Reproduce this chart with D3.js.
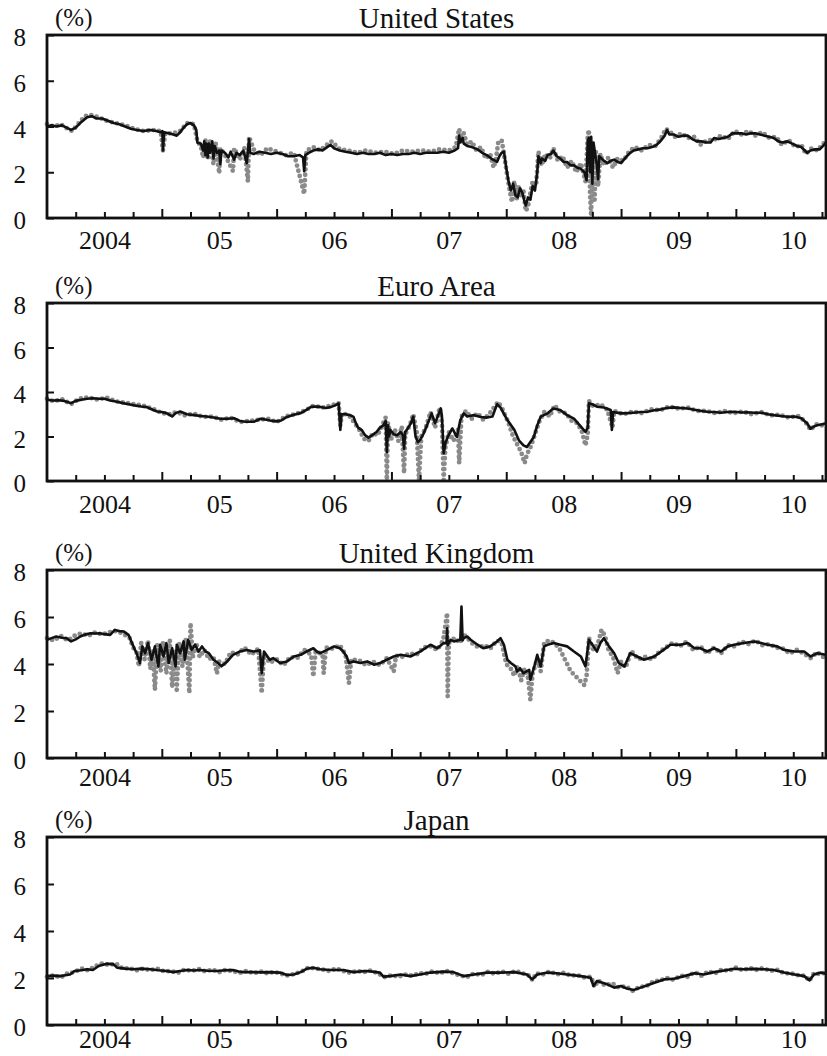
<!DOCTYPE html>
<html>
<head>
<meta charset="utf-8">
<script src="https://cdn.jsdelivr.net/npm/d3@7"></script>
<style>
  body { margin: 0; background: #fff; }
  text { font-family: "Liberation Serif", "Times New Roman", serif; fill: #111; }
</style>
</head>
<body>
<script>
// values: [time in decimal years, %]
// black line = daily series, grey dots = the other series

const us_line = [[2004.00,4.0],[2004.04,4.05],[2004.08,4.0],[2004.13,4.05],[2004.17,3.95],[2004.21,3.85],[2004.25,3.95],[2004.30,4.2],[2004.35,4.4],[2004.39,4.45],[2004.43,4.35],[2004.48,4.35],[2004.53,4.25],[2004.58,4.15],[2004.63,4.1],[2004.68,4.0],[2004.73,3.9],[2004.78,3.85],[2004.84,3.8],[2004.90,3.85],[2004.95,3.8],[2004.99,3.75],[2005.005,3.8],[2005.01,2.95],[2005.02,3.75],[2005.06,3.7],[2005.10,3.65],[2005.13,3.6],[2005.16,3.75],[2005.19,3.95],[2005.22,4.1],[2005.25,4.15],[2005.28,4.05],[2005.30,3.85],[2005.31,3.3],[2005.34,3.25],[2005.36,2.95],[2005.37,3.35],[2005.38,2.75],[2005.39,3.25],[2005.40,2.65],[2005.41,3.25],[2005.42,2.85],[2005.44,3.35],[2005.45,2.6],[2005.46,3.15],[2005.48,2.85],[2005.50,2.95],[2005.51,2.35],[2005.52,2.95],[2005.55,2.85],[2005.58,2.65],[2005.60,2.9],[2005.63,2.55],[2005.65,2.85],[2005.68,2.75],[2005.71,2.95],[2005.74,2.4],[2005.75,2.95],[2005.76,3.45],[2005.77,2.85],[2005.80,2.8],[2005.85,2.9],[2005.90,2.85],[2005.95,2.8],[2006.00,2.85],[2006.05,2.8],[2006.10,2.7],[2006.15,2.7],[2006.20,2.75],[2006.23,2.65],[2006.24,2.05],[2006.25,2.75],[2006.28,2.85],[2006.32,2.95],[2006.36,3.0],[2006.40,2.95],[2006.44,3.1],[2006.47,3.2],[2006.50,3.05],[2006.55,2.95],[2006.60,2.9],[2006.65,2.85],[2006.70,2.8],[2006.75,2.85],[2006.80,2.8],[2006.85,2.8],[2006.90,2.85],[2006.95,2.75],[2007.00,2.8],[2007.05,2.75],[2007.10,2.8],[2007.15,2.8],[2007.20,2.85],[2007.25,2.8],[2007.30,2.85],[2007.35,2.85],[2007.40,2.85],[2007.45,2.9],[2007.50,2.85],[2007.55,2.95],[2007.58,3.05],[2007.59,3.6],[2007.60,3.3],[2007.62,3.5],[2007.63,3.25],[2007.66,3.15],[2007.70,3.1],[2007.75,3.0],[2007.79,2.85],[2007.83,2.75],[2007.87,2.6],[2007.92,2.45],[2007.94,2.7],[2007.96,2.85],[2007.98,2.9],[2008.00,2.2],[2008.02,1.6],[2008.04,1.2],[2008.06,1.5],[2008.08,1.0],[2008.10,0.9],[2008.12,1.3],[2008.14,1.1],[2008.16,0.7],[2008.17,0.55],[2008.19,0.9],[2008.21,0.8],[2008.23,1.4],[2008.25,1.2],[2008.27,2.0],[2008.28,2.7],[2008.30,2.4],[2008.31,2.6],[2008.34,2.5],[2008.36,2.75],[2008.39,2.8],[2008.41,2.95],[2008.44,2.7],[2008.47,2.6],[2008.50,2.45],[2008.53,2.45],[2008.56,2.3],[2008.59,2.3],[2008.62,2.2],[2008.65,2.15],[2008.68,2.0],[2008.70,1.65],[2008.71,3.4],[2008.72,3.5],[2008.73,2.0],[2008.74,3.55],[2008.75,1.5],[2008.76,3.3],[2008.78,2.6],[2008.79,2.3],[2008.80,1.7],[2008.81,2.7],[2008.84,2.55],[2008.88,2.4],[2008.91,2.5],[2008.94,2.55],[2008.97,2.45],[2009.00,2.4],[2009.05,2.7],[2009.08,2.85],[2009.11,2.95],[2009.15,3.0],[2009.19,3.05],[2009.23,3.05],[2009.27,3.1],[2009.31,3.2],[2009.35,3.4],[2009.38,3.6],[2009.40,3.85],[2009.42,3.65],[2009.46,3.65],[2009.50,3.55],[2009.54,3.6],[2009.58,3.6],[2009.62,3.45],[2009.66,3.35],[2009.70,3.35],[2009.74,3.3],[2009.78,3.3],[2009.81,3.5],[2009.85,3.45],[2009.89,3.5],[2009.93,3.55],[2009.97,3.7],[2010.01,3.7],[2010.05,3.7],[2010.09,3.65],[2010.13,3.7],[2010.17,3.7],[2010.21,3.65],[2010.25,3.6],[2010.29,3.55],[2010.33,3.5],[2010.37,3.35],[2010.41,3.3],[2010.45,3.35],[2010.49,3.25],[2010.53,3.15],[2010.57,3.1],[2010.60,2.95],[2010.62,2.85],[2010.65,2.95],[2010.69,3.0],[2010.73,3.0],[2010.76,3.15],[2010.785,3.3]]

const us_dots = [[2004.00,4.1],[2004.06,4.0],[2004.12,4.1],[2004.18,3.9],[2004.22,3.8],[2004.27,4.1],[2004.33,4.45],[2004.38,4.5],[2004.45,4.4],[2004.52,4.25],[2004.60,4.15],[2004.68,4.05],[2004.76,3.9],[2004.84,3.8],[2004.92,3.85],[2004.99,3.8],[2005.01,2.95],[2005.03,3.7],[2005.10,3.7],[2005.16,3.8],[2005.22,4.15],[2005.28,4.1],[2005.31,3.35],[2005.34,3.15],[2005.36,2.65],[2005.38,3.4],[2005.40,2.55],[2005.42,3.35],[2005.45,2.35],[2005.47,3.25],[2005.50,1.95],[2005.51,3.05],[2005.55,2.75],[2005.62,2.05],[2005.63,3.05],[2005.68,2.55],[2005.72,3.05],[2005.75,1.6],[2005.76,3.55],[2005.80,3.0],[2005.86,2.75],[2005.92,3.05],[2006.00,2.9],[2006.08,2.75],[2006.15,2.85],[2006.24,1.05],[2006.26,2.95],[2006.32,3.1],[2006.38,2.95],[2006.45,3.25],[2006.48,3.35],[2006.55,3.0],[2006.62,2.95],[2006.70,2.85],[2006.78,2.95],[2006.86,2.85],[2006.94,2.9],[2007.02,2.8],[2007.10,2.95],[2007.18,2.9],[2007.26,2.95],[2007.34,2.9],[2007.42,3.0],[2007.50,2.95],[2007.56,3.1],[2007.59,3.9],[2007.61,3.3],[2007.63,3.7],[2007.66,3.2],[2007.70,3.35],[2007.74,2.95],[2007.78,3.1],[2007.82,2.6],[2007.86,2.8],[2007.89,2.2],[2007.91,2.55],[2007.93,3.3],[2007.96,3.4],[2007.98,2.8],[2008.01,1.8],[2008.03,1.2],[2008.05,0.7],[2008.07,1.6],[2008.09,0.8],[2008.11,1.4],[2008.13,0.9],[2008.15,1.2],[2008.17,0.3],[2008.19,0.5],[2008.21,1.1],[2008.23,1.6],[2008.26,1.4],[2008.28,2.9],[2008.31,2.3],[2008.34,2.8],[2008.38,2.6],[2008.41,3.05],[2008.45,2.5],[2008.49,2.7],[2008.53,2.2],[2008.57,2.5],[2008.61,2.0],[2008.65,2.4],[2008.69,1.6],[2008.71,3.6],[2008.72,3.85],[2008.73,1.0],[2008.74,0.1],[2008.75,3.0],[2008.77,0.8],[2008.78,2.9],[2008.80,1.4],[2008.82,2.8],[2008.85,2.3],[2008.89,2.65],[2008.93,2.2],[2008.97,2.6],[2009.02,2.5],[2009.07,2.9],[2009.12,3.1],[2009.18,2.95],[2009.24,3.2],[2009.30,3.15],[2009.35,3.5],[2009.39,3.9],[2009.42,3.8],[2009.47,3.55],[2009.53,3.7],[2009.58,3.5],[2009.64,3.55],[2009.69,3.2],[2009.75,3.4],[2009.81,3.4],[2009.87,3.6],[2009.93,3.45],[2009.99,3.8],[2010.05,3.65],[2010.11,3.8],[2010.17,3.6],[2010.23,3.75],[2010.29,3.5],[2010.35,3.55],[2010.40,3.2],[2010.46,3.4],[2010.52,3.1],[2010.57,3.2],[2010.61,2.8],[2010.66,3.05],[2010.71,2.95],[2010.76,3.25],[2010.785,3.3]]

const euro_line = [[2004.00,3.65],[2004.05,3.62],[2004.10,3.63],[2004.15,3.6],[2004.21,3.5],[2004.25,3.6],[2004.30,3.65],[2004.35,3.7],[2004.40,3.72],[2004.45,3.7],[2004.50,3.7],[2004.55,3.62],[2004.61,3.56],[2004.66,3.5],[2004.71,3.45],[2004.76,3.4],[2004.82,3.35],[2004.87,3.32],[2004.92,3.2],[2004.96,3.12],[2005.00,3.1],[2005.04,3.05],[2005.09,2.9],[2005.12,3.05],[2005.16,3.12],[2005.22,3.0],[2005.28,2.96],[2005.34,2.92],[2005.39,2.9],[2005.45,2.85],[2005.51,2.8],[2005.57,2.8],[2005.63,2.82],[2005.68,2.7],[2005.73,2.66],[2005.80,2.66],[2005.86,2.8],[2005.90,2.76],[2005.94,2.72],[2006.00,2.68],[2006.04,2.72],[2006.09,2.88],[2006.15,2.98],[2006.21,3.05],[2006.26,3.2],[2006.30,3.33],[2006.34,3.35],[2006.38,3.33],[2006.43,3.28],[2006.47,3.32],[2006.51,3.4],[2006.54,3.49],[2006.555,2.3],[2006.565,3.0],[2006.60,3.0],[2006.64,2.96],[2006.67,2.88],[2006.69,2.6],[2006.71,2.4],[2006.74,2.3],[2006.77,2.06],[2006.80,1.95],[2006.83,2.05],[2006.87,2.2],[2006.90,2.4],[2006.93,2.5],[2006.95,2.7],[2006.96,1.3],[2006.97,2.5],[2006.98,2.0],[2006.99,2.3],[2007.02,2.1],[2007.05,2.06],[2007.08,2.2],[2007.10,2.05],[2007.11,1.45],[2007.12,2.2],[2007.14,2.35],[2007.17,2.6],[2007.19,2.9],[2007.21,2.0],[2007.23,1.75],[2007.25,1.85],[2007.28,2.13],[2007.31,2.5],[2007.35,3.04],[2007.38,2.6],[2007.43,3.26],[2007.44,2.9],[2007.455,1.25],[2007.47,1.7],[2007.49,1.98],[2007.53,2.36],[2007.57,1.98],[2007.60,2.74],[2007.63,3.04],[2007.66,2.9],[2007.72,2.96],[2007.78,2.88],[2007.83,2.85],[2007.88,2.9],[2007.92,3.45],[2007.95,3.3],[2008.01,2.74],[2008.07,2.3],[2008.11,1.83],[2008.15,1.6],[2008.18,1.53],[2008.21,1.75],[2008.24,1.98],[2008.27,2.5],[2008.30,2.89],[2008.36,3.04],[2008.41,3.26],[2008.47,3.19],[2008.53,2.96],[2008.59,2.8],[2008.65,2.44],[2008.69,2.21],[2008.71,2.4],[2008.72,3.49],[2008.75,3.45],[2008.79,3.34],[2008.85,3.3],[2008.91,3.19],[2008.92,2.3],[2008.93,3.1],[2009.00,3.04],[2009.06,3.05],[2009.11,3.07],[2009.17,3.1],[2009.23,3.11],[2009.29,3.18],[2009.35,3.22],[2009.40,3.28],[2009.46,3.31],[2009.52,3.28],[2009.58,3.26],[2009.64,3.2],[2009.70,3.15],[2009.75,3.11],[2009.81,3.1],[2009.87,3.07],[2009.93,3.1],[2009.985,3.11],[2010.05,3.08],[2010.10,3.09],[2010.16,3.07],[2010.22,3.07],[2010.28,3.0],[2010.33,2.96],[2010.39,2.92],[2010.45,2.89],[2010.51,2.9],[2010.57,2.82],[2010.62,2.6],[2010.65,2.35],[2010.68,2.45],[2010.71,2.51],[2010.75,2.55],[2010.785,2.6]]

const euro_dots = [[2004.00,3.7],[2004.06,3.58],[2004.13,3.68],[2004.21,3.45],[2004.28,3.7],[2004.36,3.76],[2004.44,3.66],[2004.52,3.75],[2004.60,3.58],[2004.68,3.52],[2004.76,3.45],[2004.84,3.38],[2004.92,3.25],[2005.00,3.05],[2005.07,3.0],[2005.13,3.1],[2005.20,2.95],[2005.28,3.02],[2005.36,2.88],[2005.44,2.9],[2005.52,2.75],[2005.60,2.85],[2005.68,2.65],[2005.76,2.7],[2005.84,2.75],[2005.92,2.8],[2006.00,2.65],[2006.08,2.9],[2006.16,3.0],[2006.24,3.15],[2006.32,3.38],[2006.40,3.3],[2006.48,3.4],[2006.54,3.5],[2006.555,2.5],[2006.57,3.05],[2006.63,2.95],[2006.68,2.6],[2006.72,2.3],[2006.76,1.9],[2006.80,1.8],[2006.84,2.15],[2006.88,2.05],[2006.92,2.5],[2006.95,2.85],[2006.96,0.05],[2006.97,2.6],[2007.00,1.9],[2007.03,2.3],[2007.06,1.8],[2007.09,2.45],[2007.11,0.35],[2007.12,2.1],[2007.16,2.5],[2007.19,3.0],[2007.22,2.2],[2007.24,0.05],[2007.26,2.0],[2007.30,2.4],[2007.34,3.1],[2007.38,2.4],[2007.42,3.3],[2007.44,2.6],[2007.455,0.05],[2007.47,1.5],[2007.50,2.2],[2007.54,1.8],[2007.58,2.3],[2007.59,0.8],[2007.61,2.9],[2007.65,3.15],[2007.70,2.8],[2007.75,3.05],[2007.80,2.75],[2007.85,3.0],[2007.90,3.35],[2007.93,3.55],[2007.97,3.2],[2008.02,2.6],[2008.06,2.0],[2008.10,1.6],[2008.13,1.3],[2008.16,0.8],[2008.18,1.2],[2008.21,1.5],[2008.25,2.1],[2008.29,2.7],[2008.33,3.1],[2008.38,2.9],[2008.42,3.4],[2008.47,3.1],[2008.52,3.05],[2008.57,2.7],[2008.62,2.6],[2008.66,2.2],[2008.69,1.6],[2008.71,2.1],[2008.72,3.6],[2008.76,3.35],[2008.82,3.45],[2008.88,3.2],[2008.925,2.4],[2008.94,3.15],[2009.02,3.0],[2009.10,3.12],[2009.18,3.05],[2009.26,3.22],[2009.34,3.18],[2009.42,3.35],[2009.50,3.25],[2009.58,3.3],[2009.66,3.15],[2009.74,3.15],[2009.82,3.05],[2009.90,3.15],[2009.98,3.05],[2010.06,3.12],[2010.14,3.0],[2010.22,3.1],[2010.30,2.95],[2010.38,2.98],[2010.46,2.85],[2010.54,2.92],[2010.60,2.7],[2010.65,2.3],[2010.70,2.55],[2010.75,2.5],[2010.785,2.65]]

const uk_line = [[2004.00,5.03],[2004.04,5.1],[2004.08,5.17],[2004.13,5.12],[2004.17,5.1],[2004.21,4.96],[2004.25,5.05],[2004.29,5.17],[2004.33,5.25],[2004.38,5.31],[2004.42,5.3],[2004.46,5.31],[2004.50,5.27],[2004.55,5.24],[2004.59,5.45],[2004.63,5.4],[2004.67,5.38],[2004.71,5.24],[2004.74,4.89],[2004.76,4.67],[2004.78,4.46],[2004.81,4.04],[2004.83,4.75],[2004.855,4.46],[2004.88,4.89],[2004.91,4.18],[2004.94,4.75],[2004.97,3.9],[2004.985,4.82],[2005.015,4.32],[2005.04,4.89],[2005.06,4.04],[2005.09,4.67],[2005.12,3.9],[2005.13,4.82],[2005.16,4.46],[2005.19,4.96],[2005.20,4.18],[2005.23,5.03],[2005.26,4.6],[2005.29,4.82],[2005.32,4.53],[2005.35,4.75],[2005.38,4.53],[2005.41,4.46],[2005.45,4.18],[2005.49,4.04],[2005.52,3.9],[2005.57,4.11],[2005.62,4.39],[2005.68,4.53],[2005.74,4.6],[2005.80,4.53],[2005.855,4.58],[2005.87,3.61],[2005.89,4.53],[2005.94,4.18],[2005.97,4.25],[2006.03,4.04],[2006.09,4.11],[2006.15,4.32],[2006.21,4.39],[2006.26,4.53],[2006.32,4.67],[2006.35,4.53],[2006.38,4.46],[2006.44,4.6],[2006.50,4.75],[2006.55,4.67],[2006.58,4.53],[2006.61,4.32],[2006.63,4.04],[2006.67,4.11],[2006.73,4.04],[2006.79,4.11],[2006.85,3.97],[2006.90,4.04],[2006.96,4.18],[2007.02,4.32],[2007.08,4.39],[2007.165,4.32],[2007.25,4.53],[2007.34,4.82],[2007.40,4.67],[2007.456,4.89],[2007.48,4.9],[2007.485,5.52],[2007.49,4.8],[2007.514,5.03],[2007.543,4.96],[2007.60,5.03],[2007.61,6.44],[2007.62,5.0],[2007.63,5.1],[2007.66,5.17],[2007.69,5.03],[2007.75,4.82],[2007.80,4.67],[2007.86,4.75],[2007.92,4.96],[2007.95,5.1],[2007.98,4.82],[2008.01,4.18],[2008.04,4.04],[2008.08,3.9],[2008.095,3.68],[2008.12,3.82],[2008.15,3.61],[2008.20,3.75],[2008.21,3.33],[2008.24,3.82],[2008.27,4.39],[2008.30,3.9],[2008.33,4.75],[2008.36,4.82],[2008.415,4.89],[2008.47,4.82],[2008.53,4.75],[2008.59,4.53],[2008.65,4.32],[2008.69,3.9],[2008.72,5.03],[2008.76,4.75],[2008.79,4.53],[2008.82,4.89],[2008.85,5.1],[2008.895,4.75],[2008.94,4.46],[2008.98,4.04],[2009.03,3.9],[2009.08,4.46],[2009.14,4.32],[2009.20,4.18],[2009.29,4.32],[2009.37,4.6],[2009.43,4.82],[2009.52,4.82],[2009.58,4.89],[2009.64,4.67],[2009.69,4.67],[2009.75,4.53],[2009.81,4.67],[2009.87,4.53],[2009.93,4.75],[2009.985,4.82],[2010.07,4.89],[2010.16,4.96],[2010.22,4.89],[2010.28,4.82],[2010.36,4.75],[2010.42,4.6],[2010.51,4.53],[2010.595,4.53],[2010.65,4.32],[2010.71,4.46],[2010.785,4.39]]

const uk_dots = [[2004.00,5.1],[2004.06,5.0],[2004.12,5.2],[2004.18,5.0],[2004.24,5.2],[2004.30,5.3],[2004.36,5.2],[2004.42,5.35],[2004.48,5.25],[2004.54,5.35],[2004.60,5.4],[2004.66,5.3],[2004.72,5.1],[2004.75,4.7],[2004.78,4.5],[2004.80,3.9],[2004.82,4.9],[2004.85,4.2],[2004.88,5.0],[2004.90,3.8],[2004.92,4.6],[2004.94,2.9],[2004.96,4.8],[2004.99,3.7],[2005.01,4.9],[2005.04,3.6],[2005.07,5.0],[2005.09,3.0],[2005.11,4.6],[2005.13,2.9],[2005.15,4.9],[2005.18,3.9],[2005.21,5.1],[2005.24,2.76],[2005.25,5.74],[2005.27,4.3],[2005.30,4.9],[2005.33,4.3],[2005.37,4.6],[2005.41,4.2],[2005.45,4.3],[2005.48,3.6],[2005.50,4.1],[2005.55,4.0],[2005.60,4.5],[2005.66,4.4],[2005.72,4.7],[2005.78,4.4],[2005.84,4.65],[2005.87,2.76],[2005.89,4.4],[2005.94,4.05],[2006.00,4.2],[2006.06,3.95],[2006.12,4.3],[2006.18,4.25],[2006.24,4.6],[2006.30,4.4],[2006.32,3.47],[2006.34,4.55],[2006.40,4.4],[2006.41,3.61],[2006.43,4.7],[2006.49,4.65],[2006.55,4.8],[2006.60,4.4],[2006.63,3.19],[2006.65,4.2],[2006.72,4.15],[2006.78,3.95],[2006.84,4.1],[2006.90,3.95],[2006.96,4.25],[2007.02,3.68],[2007.04,4.35],[2007.10,4.3],[2007.16,4.45],[2007.22,4.4],[2007.28,4.7],[2007.34,4.75],[2007.40,4.6],[2007.45,5.0],[2007.485,6.16],[2007.49,2.62],[2007.50,4.9],[2007.55,5.1],[2007.60,4.9],[2007.62,5.3],[2007.66,5.1],[2007.71,4.85],[2007.76,4.7],[2007.81,4.8],[2007.86,4.65],[2007.92,5.0],[2007.96,4.9],[2008.00,4.0],[2008.04,3.8],[2008.07,3.5],[2008.10,3.9],[2008.13,3.3],[2008.16,3.8],[2008.19,3.4],[2008.21,2.48],[2008.23,3.6],[2008.27,4.2],[2008.30,3.7],[2008.33,4.9],[2008.37,5.0],[2008.42,4.9],[2008.47,4.6],[2008.52,4.1],[2008.56,3.7],[2008.60,3.5],[2008.64,3.3],[2008.68,3.1],[2008.70,3.5],[2008.72,5.1],[2008.76,4.6],[2008.80,4.9],[2008.83,5.45],[2008.86,5.2],[2008.89,4.6],[2008.93,4.3],[2008.97,3.61],[2009.00,4.1],[2009.04,3.85],[2009.09,4.55],[2009.15,4.2],[2009.21,4.3],[2009.27,4.2],[2009.33,4.5],[2009.39,4.7],[2009.45,4.9],[2009.51,4.75],[2009.57,4.95],[2009.63,4.6],[2009.69,4.75],[2009.75,4.45],[2009.81,4.7],[2009.87,4.45],[2009.93,4.8],[2009.99,4.75],[2010.05,4.95],[2010.11,4.85],[2010.17,5.0],[2010.23,4.8],[2010.29,4.85],[2010.35,4.7],[2010.41,4.65],[2010.47,4.45],[2010.53,4.6],[2010.59,4.45],[2010.65,4.25],[2010.71,4.5],[2010.76,4.3],[2010.785,4.4]]

const japan_line = [[2004.00,2.08],[2004.06,2.1],[2004.11,2.08],[2004.16,2.12],[2004.20,2.15],[2004.24,2.3],[2004.30,2.33],[2004.35,2.37],[2004.40,2.34],[2004.45,2.51],[2004.52,2.61],[2004.58,2.58],[2004.61,2.44],[2004.68,2.4],[2004.75,2.37],[2004.82,2.4],[2004.90,2.37],[2004.97,2.33],[2005.04,2.3],[2005.10,2.25],[2005.16,2.3],[2005.22,2.34],[2005.28,2.32],[2005.33,2.34],[2005.40,2.31],[2005.48,2.3],[2005.55,2.33],[2005.62,2.34],[2005.67,2.28],[2005.71,2.25],[2005.80,2.25],[2005.86,2.24],[2005.92,2.25],[2006.03,2.23],[2006.09,2.13],[2006.15,2.15],[2006.21,2.25],[2006.26,2.39],[2006.32,2.44],[2006.38,2.37],[2006.44,2.35],[2006.50,2.34],[2006.58,2.34],[2006.67,2.25],[2006.73,2.28],[2006.79,2.3],[2006.85,2.26],[2006.90,2.23],[2006.93,2.06],[2006.99,2.08],[2007.08,2.15],[2007.165,2.08],[2007.25,2.15],[2007.34,2.23],[2007.456,2.27],[2007.54,2.25],[2007.63,2.08],[2007.72,2.15],[2007.83,2.23],[2007.95,2.23],[2008.07,2.25],[2008.18,2.15],[2008.226,1.94],[2008.27,2.15],[2008.36,2.23],[2008.44,2.2],[2008.53,2.15],[2008.65,2.08],[2008.735,2.01],[2008.76,1.66],[2008.79,1.87],[2008.88,1.73],[2008.94,1.59],[2009.00,1.66],[2009.05,1.55],[2009.11,1.49],[2009.17,1.59],[2009.23,1.69],[2009.29,1.8],[2009.375,1.94],[2009.46,1.97],[2009.55,2.08],[2009.64,2.2],[2009.72,2.15],[2009.81,2.25],[2009.90,2.32],[2009.985,2.39],[2010.07,2.37],[2010.16,2.39],[2010.25,2.37],[2010.33,2.34],[2010.42,2.23],[2010.51,2.15],[2010.595,2.08],[2010.64,1.9],[2010.68,2.15],[2010.74,2.23],[2010.785,2.18]]

const japan_dots = [[2004.00,2.05],[2004.06,2.12],[2004.12,2.02],[2004.18,2.2],[2004.24,2.25],[2004.30,2.4],[2004.36,2.32],[2004.42,2.5],[2004.48,2.62],[2004.54,2.55],[2004.60,2.62],[2004.66,2.4],[2004.72,2.42],[2004.78,2.32],[2004.84,2.4],[2004.90,2.33],[2004.96,2.4],[2005.02,2.28],[2005.08,2.3],[2005.14,2.22],[2005.20,2.36],[2005.26,2.3],[2005.32,2.38],[2005.38,2.28],[2005.44,2.36],[2005.50,2.25],[2005.56,2.35],[2005.62,2.28],[2005.68,2.22],[2005.74,2.3],[2005.80,2.2],[2005.86,2.28],[2005.92,2.2],[2005.98,2.26],[2006.04,2.18],[2006.10,2.1],[2006.16,2.18],[2006.22,2.28],[2006.28,2.45],[2006.34,2.4],[2006.40,2.36],[2006.46,2.3],[2006.52,2.4],[2006.58,2.3],[2006.64,2.22],[2006.70,2.3],[2006.76,2.25],[2006.82,2.32],[2006.88,2.2],[2006.94,2.04],[2007.00,2.12],[2007.06,2.05],[2007.12,2.15],[2007.18,2.1],[2007.24,2.2],[2007.30,2.18],[2007.36,2.28],[2007.42,2.2],[2007.48,2.3],[2007.54,2.2],[2007.60,2.1],[2007.66,2.05],[2007.72,2.2],[2007.78,2.12],[2007.84,2.26],[2007.90,2.18],[2007.96,2.28],[2008.02,2.18],[2008.08,2.3],[2008.14,2.2],[2008.20,2.1],[2008.23,1.9],[2008.26,2.2],[2008.32,2.15],[2008.38,2.28],[2008.44,2.15],[2008.50,2.22],[2008.56,2.1],[2008.62,2.12],[2008.68,2.02],[2008.74,2.05],[2008.77,1.62],[2008.80,1.9],[2008.86,1.68],[2008.92,1.78],[2008.98,1.6],[2009.04,1.65],[2009.10,1.45],[2009.16,1.62],[2009.22,1.65],[2009.28,1.85],[2009.34,1.9],[2009.40,2.0],[2009.46,1.92],[2009.52,2.1],[2009.58,2.05],[2009.64,2.25],[2009.70,2.1],[2009.76,2.28],[2009.82,2.2],[2009.88,2.36],[2009.94,2.3],[2010.00,2.44],[2010.06,2.33],[2010.12,2.42],[2010.18,2.35],[2010.24,2.42],[2010.30,2.3],[2010.36,2.35],[2010.42,2.2],[2010.48,2.2],[2010.54,2.12],[2010.60,2.1],[2010.64,1.88],[2010.68,2.2],[2010.74,2.16],[2010.785,2.25]]

const titles = ["United States", "Euro Area", "United Kingdom", "Japan"]
const year_labels = ["2004", "05", "06", "07", "08", "09", "10"]
const y_ticks = [0, 2, 4, 6, 8]
const t_start = 2004, t_end = 2010.785

const series = [
    { title: titles[0], line: us_line, dots: us_dots },
    { title: titles[1], line: euro_line, dots: euro_dots },
    { title: titles[2], line: uk_line, dots: uk_dots },
    { title: titles[3], line: japan_line, dots: japan_dots }
]

// panel frames (top / bottom of each box in px) and gap under the axis for year labels
const panel_top = [35, 303, 570, 837]
const panel_bottom = [218, 481, 758, 1025]
const label_gap = [13, 14, 10, 5]
const left = 47, right = 826

const svg = d3.select("body").append("svg")
    .attr("width", 827)
    .attr("height", 1056)
    .attr("viewBox", "0 0 827 1056")

const x = d3.scaleLinear().domain([t_start, t_end]).range([left, right])

// quarter ticks, every 4th one is a year boundary
const quarter_ticks = d3.range(1, 28).map(i => t_start + i / 4)
const major_ticks = quarter_ticks.filter((t, i) => (i + 1) % 4 === 0)
const minor_ticks = quarter_ticks.filter((t, i) => (i + 1) % 4 !== 0)
const label_ticks = year_labels.map((d, i) => t_start + i + 0.5)

const serif = '"Liberation Serif", "Times New Roman", serif'

function draw_panel(d, i)
{
    const top = panel_top[i]
    const bottom = panel_bottom[i]
    const y = d3.scaleLinear().domain([0, 8]).range([bottom, top])
    const g = svg.append("g")

    // grey dots first, black line on top
    const line_gen = d3.line()
        .x(p => x(p[0]))
        .y(p => y(p[1]))

    g.append("path")
        .datum(d.dots)
        .attr("d", line_gen)
        .attr("fill", "none")
        .attr("stroke", "#8a8a8a")
        .attr("stroke-width", 4.8)
        .attr("stroke-linecap", "round")
        .attr("stroke-dasharray", "0 5.4")

    g.append("path")
        .datum(d.line)
        .attr("d", line_gen)
        .attr("fill", "none")
        .attr("stroke", "#111")
        .attr("stroke-width", 2.6)
        .attr("stroke-linejoin", "round")

    // x ticks pointing into the box
    g.append("g")
        .attr("transform", `translate(0,${bottom})`)
        .call(d3.axisBottom(x).tickValues(major_ticks).tickSize(-9).tickFormat(""))
    g.append("g")
        .attr("transform", `translate(0,${bottom})`)
        .call(d3.axisBottom(x).tickValues(minor_ticks).tickSize(-6).tickFormat(""))
    const x_labels = g.append("g")
        .attr("transform", `translate(0,${bottom})`)
        .call(d3.axisBottom(x).tickValues(label_ticks).tickSize(0).tickPadding(label_gap[i])
            .tickFormat((t, k) => year_labels[k]))
    x_labels.selectAll("text").attr("font-size", 26).attr("dy", "0.71em")

    const y_axis = g.append("g")
        .attr("transform", `translate(${left},0)`)
        .call(d3.axisLeft(y).tickValues(y_ticks).tickSize(-7).tickPadding(21))
    y_axis.selectAll("text").attr("font-size", 25).attr("dy", "0.42em")

    g.selectAll(".domain").remove()
    g.selectAll(".tick line").attr("stroke", "#111").attr("stroke-width", 2)
    g.selectAll(".tick text").attr("fill", "#111").style("font-family", serif)

    // box
    g.append("rect")
        .attr("x", left)
        .attr("y", top)
        .attr("width", right - left)
        .attr("height", bottom - top)
        .attr("fill", "none")
        .attr("stroke", "#111")
        .attr("stroke-width", 2.8)

    g.append("text")
        .attr("x", 55)
        .attr("y", top - 9)
        .attr("font-size", 25)
        .text("(%)")

    g.append("text")
        .attr("x", (left + right) / 2)
        .attr("y", top - 7)
        .attr("text-anchor", "middle")
        .attr("font-size", 29)
        .text(d.title)
}

series.forEach(draw_panel)
</script>
</body>
</html>
